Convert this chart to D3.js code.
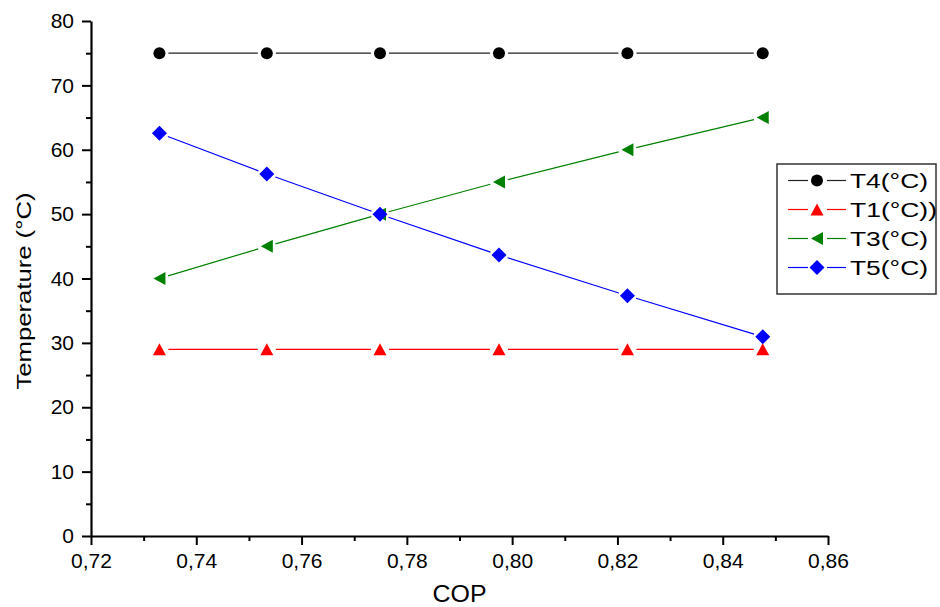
<!DOCTYPE html>
<html>
<head>
<meta charset="utf-8">
<script src="https://cdn.jsdelivr.net/npm/d3@7/dist/d3.min.js"></script>
<style>
  html, body { margin: 0; padding: 0; background: #fff; }
  svg { display: block; font-family: "Liberation Sans", Arial, sans-serif; }
</style>
</head>
<body>
<svg id="chart" width="940" height="607"></svg>
<script>
// COP values (x) and temperatures for each stream
const cop = [0.7330, 0.7534, 0.7749, 0.7975, 0.8219, 0.8476];
const t4 = [75, 75, 75, 75, 75, 75];
const t1 = [29, 29, 29, 29, 29, 29];
const t3 = [40, 45, 50, 55, 60, 65];
const t5 = [62.55, 56.23, 49.97, 43.65, 37.33, 30.96];

const seriesNames = ["T4(°C)", "T1(°C))", "T3(°C)", "T5(°C)"];
const xTicks = [0.72, 0.74, 0.76, 0.78, 0.80, 0.82, 0.84, 0.86];
const xMinor = [0.73, 0.75, 0.77, 0.79, 0.81, 0.83, 0.85];
const yTicks = [0, 10, 20, 30, 40, 50, 60, 70, 80];
const yMinor = [5, 15, 25, 35, 45, 55, 65, 75];

const series = [
  { name: seriesNames[0], values: t4, color: "#000000", line: "#222222", shape: "circle" },
  { name: seriesNames[1], values: t1, color: "#ff0000", line: "#ff0000", shape: "up" },
  { name: seriesNames[2], values: t3, color: "#008000", line: "#008000", shape: "left" },
  { name: seriesNames[3], values: t5, color: "#0000ff", line: "#0000ff", shape: "diamond" }
];

const svg = d3.select("#chart");
const x = d3.scaleLinear().domain([0.72, 0.86]).range([91, 828]);
const y = d3.scaleLinear().domain([0, 80]).range([536, 21]);

// marker outlines, centred on the origin
const shapes = {
  circle: d3.symbol(d3.symbolCircle, Math.PI * 36)(),
  up: "M0,-6L6.5,6L-6.5,6Z",
  left: "M-6,0L6,-6.5L6,6.5Z",
  diamond: "M0,-7.5L7.5,0L0,7.5L-7.5,0Z"
};

const fmt = d => d.toFixed(2).replace(".", ",");

// axes
const gx = svg.append("g").attr("transform", `translate(0,${y(0)})`)
  .call(d3.axisBottom(x).tickValues(xTicks).tickFormat(fmt).tickSize(9).tickSizeOuter(0).tickPadding(8));
const gxm = svg.append("g").attr("transform", `translate(0,${y(0)})`)
  .call(d3.axisBottom(x).tickValues(xMinor).tickFormat("").tickSize(5).tickSizeOuter(0));
const gy = svg.append("g").attr("transform", `translate(${x(0.72)},0)`)
  .call(d3.axisLeft(y).tickValues(yTicks).tickSize(9).tickSizeOuter(0).tickPadding(8));
const gym = svg.append("g").attr("transform", `translate(${x(0.72)},0)`)
  .call(d3.axisLeft(y).tickValues(yMinor).tickFormat("").tickSize(5).tickSizeOuter(0));

[gx, gxm, gy, gym].forEach(g => {
  g.selectAll("path.domain").attr("stroke", "#000").attr("stroke-width", 2.2);
  g.selectAll(".tick line").attr("stroke", "#000").attr("stroke-width", 2);
  g.selectAll(".tick text").attr("fill", "#000").style("font-size", "21px")
    .style("font-family", '"Liberation Sans", Arial, sans-serif');
});
gxm.select("path.domain").remove();
gym.select("path.domain").remove();

// axis titles
svg.append("text")
  .attr("x", x(0.79)).attr("y", 602)
  .attr("text-anchor", "middle")
  .style("font-size", "23px")
  .attr("textLength", 54).attr("lengthAdjust", "spacingAndGlyphs")
  .text("COP");

svg.append("text")
  .attr("transform", `translate(31,291) rotate(-90)`)
  .attr("text-anchor", "middle")
  .attr("textLength", 197).attr("lengthAdjust", "spacingAndGlyphs")
  .style("font-size", "21px")
  .text("Temperature (°C)");

// line segments stop short of each marker
const gap = 9;
function segments(vals) {
  const pts = cop.map((c, i) => [x(c), y(vals[i])]);
  const segs = [];
  for (let i = 0; i < pts.length - 1; i++) {
    const [x0, y0] = pts[i], [x1, y1] = pts[i + 1];
    const len = Math.hypot(x1 - x0, y1 - y0);
    const ux = (x1 - x0) / len, uy = (y1 - y0) / len;
    segs.push([x0 + ux * gap, y0 + uy * gap, x1 - ux * gap, y1 - uy * gap]);
  }
  return segs;
}

series.forEach(s => {
  const g = svg.append("g");
  g.selectAll("line").data(segments(s.values)).join("line")
    .attr("x1", d => d[0]).attr("y1", d => d[1])
    .attr("x2", d => d[2]).attr("y2", d => d[3])
    .attr("stroke", s.line).attr("stroke-width", 1.2);
  g.selectAll("path").data(s.values).join("path")
    .attr("d", shapes[s.shape])
    .attr("transform", (d, i) => `translate(${x(cop[i])},${y(d)})`)
    .attr("fill", s.color);
});

// legend
const lg = svg.append("g");
lg.append("rect")
  .attr("x", 777).attr("y", 164).attr("width", 159).attr("height", 130)
  .attr("fill", "#fff").attr("stroke", "#333").attr("stroke-width", 1.5);
const textLens = [78, 87, 78, 78];
series.forEach((s, i) => {
  const cy = 180.5 + i * 29;
  lg.append("line").attr("x1", 788).attr("x2", 808).attr("y1", cy).attr("y2", cy)
    .attr("stroke", s.line).attr("stroke-width", 1.2);
  lg.append("line").attr("x1", 827).attr("x2", 846).attr("y1", cy).attr("y2", cy)
    .attr("stroke", s.line).attr("stroke-width", 1.2);
  lg.append("path").attr("d", shapes[s.shape])
    .attr("transform", `translate(817,${cy})`).attr("fill", s.color);
  lg.append("text").attr("x", 850).attr("y", cy + 7)
    .attr("textLength", textLens[i]).attr("lengthAdjust", "spacingAndGlyphs")
    .style("font-size", "20px").attr("fill", "#000")
    .text(s.name);
});
</script>
</body>
</html>
